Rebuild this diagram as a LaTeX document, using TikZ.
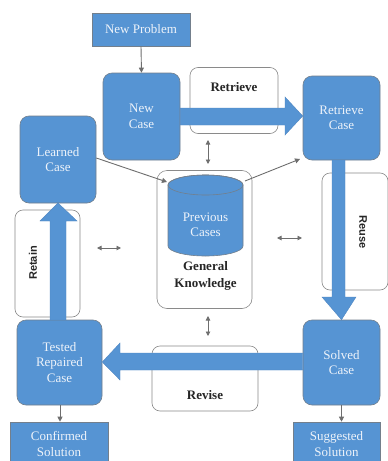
\documentclass[tikz,border=0pt]{standalone}
\usepackage{fontspec}
\setmainfont{Liberation Serif}
\newfontfamily\arialb{Liberation Sans}
\usetikzlibrary{arrows.meta}
\definecolor{cbrblue}{HTML}{5694D3}
\definecolor{cbrline}{HTML}{737F8C}
\definecolor{cbrgray}{HTML}{8A8A8A}
\definecolor{cbrconn}{HTML}{6E6E6E}
\definecolor{cbrtext}{HTML}{EEF3FA}
\definecolor{cbrarrow}{HTML}{4F86C2}
\tikzset{
  bluebox/.style={draw=cbrline, line width=0.6pt, fill=cbrblue, text=cbrtext, rounded corners=9pt,
    align=center, font=\fontsize{13}{15.5}\selectfont, inner sep=0pt},
  sqbox/.style={bluebox, rounded corners=0pt},
  whitebox/.style={draw=cbrgray, line width=0.6pt, fill=white, rounded corners=8pt, inner sep=0pt},
  phaselabel/.style={font=\fontsize{13}{15}\selectfont\bfseries, text=black!85},
  sidelabel/.style={font=\arialb\fontsize{11}{13}\selectfont\bfseries, text=black!85},
  conn/.style={draw=cbrconn, line width=0.9pt, -{Triangle[length=5pt,width=5pt]}},
  dconn/.style={draw=cbrconn, line width=0.9pt, {Triangle[length=4.5pt,width=4.5pt]}-{Triangle[length=4.5pt,width=4.5pt]}},
  bigarrow/.style={fill=cbrblue, draw=cbrarrow, line width=0.4pt}
}
\begin{document}
\begin{tikzpicture}[x=1pt,y=-1pt]
\useasboundingbox (0,0) rectangle (388,461);
\clip (0,0) rectangle (388,461);
\fill[white] (0,0) rectangle (388,461);

% white phase boxes
\node[whitebox, minimum width=88pt, minimum height=66pt] (retbox) at (234,100.5) {};
\node[phaselabel] (retlbl) at (234,87) {Retrieve};
\node[whitebox, minimum width=65pt, minimum height=107pt] (retainbox) at (47.5,263.5) {};
\node[sidelabel, rotate=90] (retainlbl) at (33,263) {Retain};
\node[whitebox, minimum width=66pt, minimum height=117pt] (reusebox) at (355,231.5) {};
\node[sidelabel, rotate=-90] (reuselbl) at (363,232) {Reuse};
\node[whitebox, minimum width=106pt, minimum height=65pt] (revbox) at (205,378.5) {};
\node[phaselabel] (revlbl) at (205,395) {Revise};

% general knowledge container
\node[whitebox, rounded corners=10pt, minimum width=95pt, minimum height=138pt] (gk) at (204.5,239.5) {};
\fill[cbrblue, draw=cbrline, line width=0.6pt]
  (168,185) -- (168,246) arc[start angle=180, end angle=360, x radius=37.5pt, y radius=10pt]
  -- (243,185) arc[start angle=0, end angle=180, x radius=37.5pt, y radius=10pt] -- cycle;
\draw[cbrline, line width=0.6pt] (205.5,185) ellipse[x radius=37.5pt, y radius=10pt];
\node[align=center, text=cbrtext, font=\fontsize{13}{15.5}\selectfont] (prev) at (205.5,225) {Previous\\Cases};
\node[align=center, text=black!85, font=\fontsize{13}{17.5}\selectfont\bfseries] (gklbl) at (205.5,276) {General\\Knowledge};

% blue nodes
\node[sqbox, minimum width=98pt, minimum height=33pt] (np) at (141,29.5) {New Problem};
\node[bluebox, minimum width=77pt, minimum height=87pt] (nc) at (141.5,116.5) {New\\Case};
\node[bluebox, minimum width=77pt, minimum height=84pt] (rc) at (341.5,118) {Retrieve\\Case};
\node[bluebox, minimum width=76pt, minimum height=87pt] (lc) at (58,159.5) {Learned\\Case};
\node[bluebox, minimum width=85pt, minimum height=85pt] (tr) at (59.5,362.5) {Tested\\Repaired\\Case};
\node[bluebox, minimum width=77pt, minimum height=85pt] (sc) at (341.5,362.5) {Solved\\Case};
\node[sqbox, minimum width=98pt, minimum height=48pt, text depth=0pt] (cs) at (59,446) {};
\node[align=center, text=cbrtext, font=\fontsize{13}{15.5}\selectfont] (cslbl) at (59,444) {Confirmed\\Solution};
\node[sqbox, minimum width=87pt, minimum height=48pt] (ss) at (336.5,446) {};
\node[align=center, text=cbrtext, font=\fontsize{13}{15.5}\selectfont] (sslbl) at (336.5,444) {Suggested\\Solution};

% big process arrows
\draw[bigarrow] (nc.east |- 0,108) -- (285,108) -- (285,97) -- (rc.west |- 0,116) -- (285,135) -- (285,125) -- (nc.east |- 0,125) -- cycle;
\draw[bigarrow] (332,160) -- (332,297) -- (322,297) -- (sc.north) -- (356,297) -- (345,297) -- (345,160) -- cycle;
\draw[bigarrow] (sc.west |- 0,353) -- (120,353) -- (120,343) -- (tr.east |- 0,362) -- (120,380) -- (120,370) -- (sc.west |- 0,370) -- cycle;
\draw[bigarrow] (50,320) -- (50,221) -- (40,221) -- (58,203) -- (77,221) -- (66,221) -- (66,320) -- cycle;

% connectors
\draw[conn] (np.south) -- (nc.north);
\coordinate (gkin) at (167,182);
\coordinate (gkout) at (245,181);
\coordinate (rcin) at (300,159);
\draw[conn] (lc.east |- 0,158) -- (gkin);
\draw[conn] (gkout) -- (rcin);
\draw[conn] (tr.south -| 60,0) -- (cs.north -| 60,0);
\draw[conn] (sc.south) -- (ss.north -| sc.south);

% double arrows
\coordinate (d1a) at (208,140); \coordinate (d1b) at (208,164);
\coordinate (d2a) at (97,248);  \coordinate (d2b) at (121,248);
\coordinate (d3a) at (277,238); \coordinate (d3b) at (302,238);
\coordinate (d4a) at (208,316); \coordinate (d4b) at (208,336);
\draw[dconn] (d1a) -- (d1b);
\draw[dconn] (d2a) -- (d2b);
\draw[dconn] (d3a) -- (d3b);
\draw[dconn] (d4a) -- (d4b);
\end{tikzpicture}
\end{document}
